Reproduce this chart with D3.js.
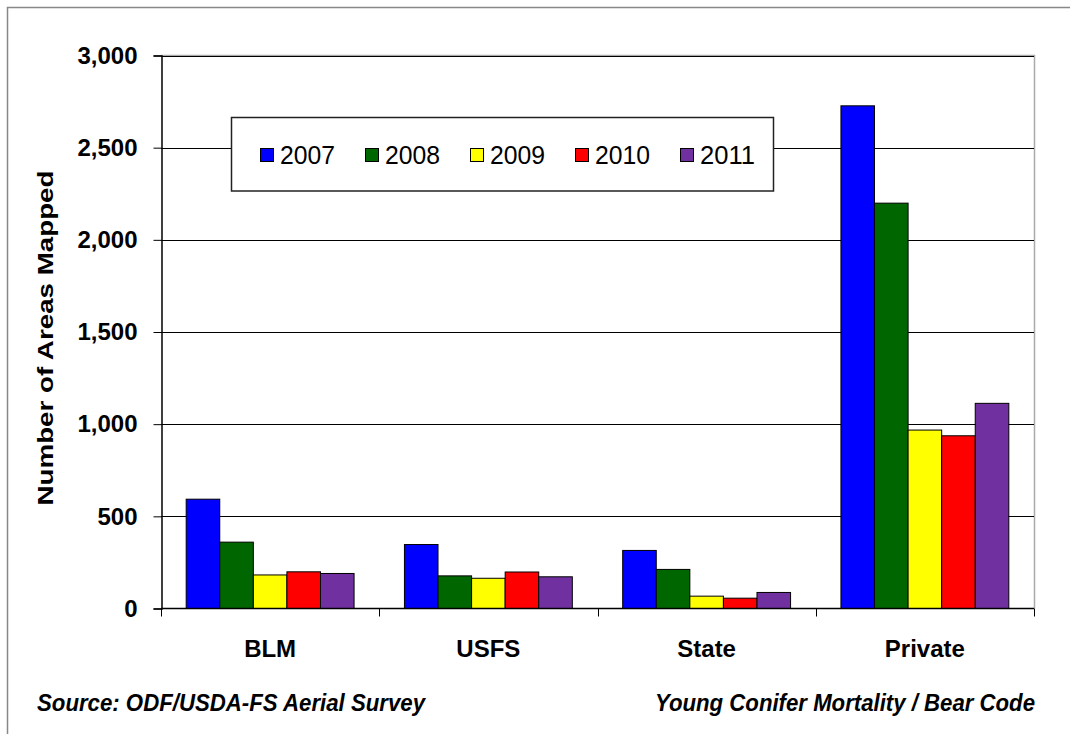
<!DOCTYPE html>
<html>
<head>
<meta charset="utf-8">
<script src="https://cdn.jsdelivr.net/npm/d3@7"></script>
<style>
  html, body { margin: 0; padding: 0; background: #fff; }
  svg { display: block; font-family: Arial, "Liberation Sans", Helvetica, sans-serif; }
</style>
</head>
<body>
<svg id="chart" width="1070" height="734"></svg>
<script>
// Young conifer mortality (bear damage), number of areas mapped by ownership
const categories = ["BLM", "USFS", "State", "Private"];
const years = ["2007", "2008", "2009", "2010", "2011"];
const colors = ["#0000FF", "#006600", "#FFFF00", "#FF0000", "#7030A0"];
const values2007 = [593, 347, 315, 2727];
const values2008 = [360, 177, 212, 2199];
const values2009 = [182, 164, 67, 968];
const values2010 = [199, 198, 56, 937];
const values2011 = [190, 172, 87, 1113];
const yTicks = [0, 500, 1000, 1500, 2000, 2500, 3000];
const yTitle = "Number of Areas Mapped";
const sourceNote = "Source: ODF/USDA-FS Aerial Survey";
const subjectNote = "Young Conifer Mortality / Bear Code";

const seriesValues = [values2007, values2008, values2009, values2010, values2011];

const svg = d3.select("#chart");
const plotLeft = 161, plotRight = 1034, plotTop = 55.5, plotBottom = 608.5;

// outer frame
svg.append("rect")
  .attr("x", 7.5).attr("y", 7.5).attr("width", 1080).attr("height", 760)
  .attr("fill", "none").attr("stroke", "#888").attr("stroke-width", 1.5);

const x0 = d3.scaleBand().domain(categories).range([plotLeft, plotRight])
  .paddingInner(0.2308).paddingOuter(0.1154);
const x1 = d3.scaleBand().domain(years).range([0, x0.bandwidth()]);
const y = d3.scaleLinear().domain([0, 3000]).range([plotBottom, plotTop]);

// plot area border (right/top)
svg.append("path")
  .attr("d", `M${plotLeft},${plotTop}H${plotRight + 0.5}V${plotBottom}`)
  .attr("fill", "none").attr("stroke", "#aaa").attr("stroke-width", 1.5);

// gridlines
svg.append("g").selectAll("line").data(yTicks.filter(d => d > 0)).join("line")
  .attr("x1", plotLeft).attr("x2", plotRight)
  .attr("y1", d => Math.round(y(d)) + 0.5).attr("y2", d => Math.round(y(d)) + 0.5)
  .attr("stroke", "#000").attr("stroke-width", 1);

// bars
const rows = [];
categories.forEach((c, i) => {
  years.forEach((yr, j) => rows.push({ cat: c, year: yr, value: seriesValues[j][i], color: colors[j] }));
});
svg.append("g").selectAll("rect").data(rows).join("rect")
  .attr("x", d => x0(d.cat) + x1(d.year))
  .attr("y", d => y(d.value))
  .attr("width", x1.bandwidth())
  .attr("height", d => plotBottom - y(d.value))
  .attr("fill", d => d.color)
  .attr("stroke", "#000").attr("stroke-width", 1);

// y axis
const yAxis = d3.axisLeft(y).tickValues(yTicks).tickSize(8).tickPadding(16)
  .tickFormat(d3.format(","));
const gy = svg.append("g").attr("transform", `translate(${plotLeft + 0.5},0)`).call(yAxis);
gy.select(".domain").attr("stroke", "#000").attr("stroke-width", 1.5);
gy.selectAll(".tick line").attr("stroke", "#000");
gy.selectAll(".tick text")
  .attr("font-size", 24).attr("font-weight", "bold").attr("fill", "#000")
  .attr("font-family", "Arial, 'Liberation Sans', sans-serif");

// x axis with ticks at category boundaries
svg.append("line").attr("x1", plotLeft).attr("x2", plotRight)
  .attr("y1", plotBottom).attr("y2", plotBottom).attr("stroke", "#000").attr("stroke-width", 1.5);
const bounds = categories.map(c => x0(c) - x0.step() * 0.1154).concat([plotRight]);
svg.append("g").selectAll("line").data(bounds).join("line")
  .attr("x1", d => Math.round(d) + 0.5).attr("x2", d => Math.round(d) + 0.5)
  .attr("y1", plotBottom).attr("y2", plotBottom + 8)
  .attr("stroke", "#000");
svg.append("g").selectAll("text").data(categories).join("text")
  .attr("x", d => x0(d) + x0.bandwidth() / 2)
  .attr("y", 657)
  .attr("text-anchor", "middle")
  .attr("font-size", 24).attr("font-weight", "bold")
  .text(d => d);

// y axis title
svg.append("text")
  .attr("transform", "translate(53,338) rotate(-90)")
  .attr("text-anchor", "middle")
  .attr("font-size", 22).attr("font-weight", "bold")
  .attr("textLength", 335).attr("lengthAdjust", "spacingAndGlyphs")
  .text(yTitle);

// legend
const lg = svg.append("g");
lg.append("rect").attr("x", 231.5).attr("y", 117.5).attr("width", 542).attr("height", 73.5)
  .attr("fill", "#fff").attr("stroke", "#222").attr("stroke-width", 1.5);
const items = lg.selectAll("g.item").data(years).join("g")
  .attr("transform", (d, i) => `translate(${260 + i * 105},0)`);
items.append("rect").attr("x", 0.5).attr("y", 148.5).attr("width", 13).attr("height", 13)
  .attr("fill", (d, i) => colors[i]).attr("stroke", "#000").attr("stroke-width", 1);
items.append("text").attr("x", 20).attr("y", 163.5)
  .attr("font-size", 26).attr("textLength", 55).attr("lengthAdjust", "spacingAndGlyphs")
  .text(d => d);

// footer notes
svg.append("text").attr("x", 37).attr("y", 711)
  .attr("font-size", 23).attr("font-weight", "bold").attr("font-style", "italic")
  .attr("textLength", 388).attr("lengthAdjust", "spacingAndGlyphs")
  .text(sourceNote);
svg.append("text").attr("x", 655).attr("y", 711)
  .attr("font-size", 23).attr("font-weight", "bold").attr("font-style", "italic")
  .attr("textLength", 380).attr("lengthAdjust", "spacingAndGlyphs")
  .text(subjectNote);
</script>
</body>
</html>
